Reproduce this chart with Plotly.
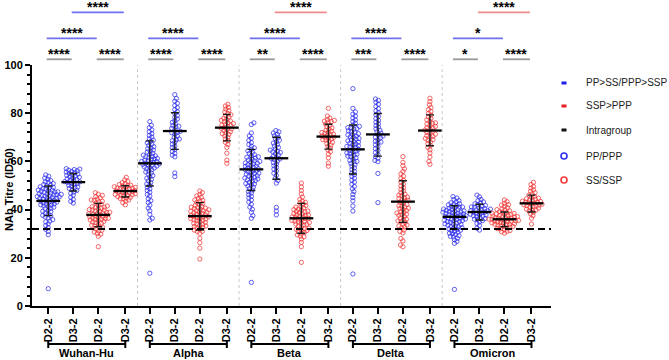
import plotly.graph_objects as go

# ---------------- data ----------------
variants = ["Wuhan-Hu", "Alpha", "Beta", "Delta", "Omicron"]
dose_labels = ["D2-2", "D3-2", "D2-2", "D3-2"]

wuhan_pp = [7.2, 29.6, 30.9, 31.8, 32.5, 33.4, 34.1, 34.9, 35.2, 35.8, 36.5, 36.9, 37.4, 37.6, 38.2, 38.5, 39.1, 39.3,
            39.8, 40.4, 40.6, 41.0, 41.3, 41.5, 41.9, 42.3, 42.4, 42.8, 43.0, 43.1, 43.5, 43.7, 43.9, 44.2, 44.3, 44.6,
            44.9, 45.0, 45.3, 45.4, 45.7, 45.9, 46.1, 46.2, 46.5, 46.6, 46.9, 47.1, 47.3, 47.4, 47.8, 48.0, 48.1, 48.5,
            48.7, 49.0, 49.2, 49.5, 49.9, 50.1, 50.4, 50.8, 51.3, 51.5, 52.0, 52.6, 53.1, 53.8, 54.4, 44.7, 45.6, 46.3,
            43.2, 42.0, 47.6]
wuhan_ppp = [42.7, 43.4, 44.2, 45.1, 46.0, 46.8, 47.3, 47.9, 48.4, 48.8, 49.2, 49.7, 50.1, 50.5, 50.8, 51.0, 51.3, 51.5,
             51.6, 51.9, 52.2, 52.5, 52.8, 53.1, 53.4, 53.6, 53.9, 54.2, 54.5, 54.7, 55.0, 55.3, 55.6, 55.8, 56.1, 56.3,
             56.6, 56.8, 57.0, 49.4]
wuhan_ss = [24.6, 28.9, 29.8, 30.7, 31.4, 32.0, 32.6, 33.1, 33.5, 33.9, 34.3, 34.8, 35.1, 35.5, 35.9, 36.2, 36.6, 36.9,
            37.1, 37.4, 37.6, 37.9, 38.1, 38.4, 38.6, 38.9, 39.2, 39.4, 39.7, 40.0, 40.3, 40.6, 40.9, 41.2, 41.5, 41.9,
            42.3, 42.7, 43.2, 43.8, 44.3, 44.9, 45.4, 45.9, 46.4, 47.0, 36.0, 37.0, 38.8, 39.9, 34.6, 32.8, 41.0, 43.5,
            35.7, 31.2, 30.1, 44.0, 38.2, 36.4]
wuhan_ssp = [42.0, 42.9, 43.5, 44.0, 44.4, 44.8, 45.1, 45.4, 45.7, 46.0, 46.3, 46.6, 46.9, 47.1, 47.3, 47.5, 47.7, 47.9,
             48.1, 48.3, 48.5, 48.7, 49.0, 49.2, 49.5, 49.8, 50.1, 50.4, 50.8, 51.2, 51.7, 52.3, 53.4, 47.0, 48.9, 46.1,
             45.9, 49.3, 50.0, 44.6]

alpha_pp = [13.6, 35.7, 36.4, 38.0, 39.5, 40.6, 41.8, 42.9, 43.7, 44.5, 45.6, 46.3, 47.2, 47.9, 48.6, 49.3, 50.0, 50.6,
            51.2, 51.9, 52.5, 53.0, 53.6, 54.1, 54.7, 55.2, 55.6, 56.0, 56.5, 57.0, 57.3, 57.7, 58.1, 58.4, 58.8, 59.0,
            59.3, 59.6, 59.9, 60.2, 60.5, 60.8, 61.2, 61.5, 61.9, 62.3, 62.6, 63.0, 63.4, 63.9, 64.3, 64.7, 65.2, 65.6,
            66.1, 66.6, 67.1, 67.7, 68.2, 68.8, 69.4, 70.1, 70.8, 71.5, 72.3, 73.1, 74.0, 75.0, 76.5, 58.6, 59.5, 60.0,
            57.5, 61.0, 62.0]
alpha_ppp = [53.7, 55.2, 61.9, 62.6, 63.4, 64.1, 64.9, 65.7, 66.4, 67.2, 67.9, 68.6, 69.3, 70.0, 70.6, 71.3, 71.9, 72.5,
             73.1, 73.7, 74.3, 74.9, 75.6, 76.2, 76.9, 77.6, 78.3, 79.0, 79.8, 80.6, 81.5, 82.3, 83.2, 84.1, 85.0, 86.1,
             87.7, 72.0, 74.6, 69.0]
alpha_ss = [19.5, 24.0, 26.3, 28.1, 30.2, 30.9, 31.5, 32.1, 32.6, 33.0, 33.5, 33.9, 34.3, 34.7, 35.0, 35.4, 35.8, 36.1,
            36.4, 36.7, 37.0, 37.3, 37.5, 37.8, 38.1, 38.4, 38.7, 39.0, 39.3, 39.6, 39.9, 40.2, 40.6, 40.9, 41.3, 41.7,
            42.1, 42.5, 43.0, 43.5, 44.0, 44.6, 45.1, 45.7, 46.3, 47.0, 47.7, 36.2, 37.7, 38.9, 34.1, 32.3, 40.5, 35.6,
            39.5, 43.8, 31.0, 41.0, 36.9, 33.2]
alpha_ssp = [59.2, 60.5, 63.4, 65.8, 67.0, 67.9, 68.6, 69.3, 70.0, 70.6, 71.2, 71.8, 72.3, 72.8, 73.3, 73.7, 74.1, 74.5,
             74.9, 75.3, 75.7, 76.1, 76.5, 77.0, 77.4, 77.9, 78.4, 78.9, 79.4, 79.9, 80.5, 81.1, 81.7, 82.4, 83.0, 83.7,
             73.5, 75.0, 71.5, 76.8]

beta_pp = [9.8, 36.4, 37.5, 38.9, 40.1, 41.0, 42.2, 43.1, 44.0, 44.8, 45.5, 46.2, 46.9, 47.5, 48.1, 48.7, 49.3, 49.8,
           50.3, 50.8, 51.3, 51.8, 52.3, 52.7, 53.1, 53.5, 53.9, 54.3, 54.7, 55.1, 55.5, 55.8, 56.2, 56.5, 56.9, 57.2,
           57.6, 57.9, 58.3, 58.6, 59.0, 59.4, 59.8, 60.2, 60.6, 61.0, 61.4, 61.9, 62.3, 62.8, 63.3, 63.8, 64.4, 65.0,
           65.6, 66.3, 67.0, 67.8, 68.7, 69.6, 70.6, 71.8, 75.3, 76.0, 55.0, 56.0, 57.0, 58.0, 54.0, 53.0, 60.0, 52.0,
           59.2, 61.7, 50.6]
beta_ppp = [37.8, 39.4, 40.9, 51.0, 52.1, 53.0, 54.2, 55.1, 56.0, 56.8, 57.5, 58.2, 58.9, 59.5, 60.1, 60.7, 61.2, 61.7,
            62.2, 62.7, 63.2, 63.7, 64.2, 64.7, 65.2, 65.8, 66.4, 67.0, 67.6, 68.2, 68.8, 69.4, 70.0, 70.6, 71.2, 71.8,
            72.3, 72.8, 61.0, 64.0]
beta_ss = [18.1, 24.6, 26.4, 27.8, 28.7, 29.5, 30.2, 30.8, 31.3, 31.8, 32.3, 32.8, 33.2, 33.6, 34.0, 34.4, 34.8, 35.2,
           35.5, 35.8, 36.1, 36.4, 36.7, 37.0, 37.3, 37.6, 37.9, 38.2, 38.6, 39.0, 39.4, 39.8, 40.2, 40.7, 41.2, 41.7,
           42.2, 42.8, 43.5, 44.3, 45.2, 46.5, 47.9, 49.4, 51.0, 35.0, 36.9, 33.9, 38.4, 40.0, 31.5, 29.0, 37.7, 34.6,
           41.0, 36.2, 32.0, 39.2, 43.0, 30.5]
beta_ssp = [58.0, 59.3, 61.5, 63.0, 64.0, 64.8, 65.5, 66.2, 66.8, 67.4, 67.9, 68.4, 68.9, 69.3, 69.7, 70.1, 70.5, 70.9,
            71.3, 71.7, 72.1, 72.5, 72.9, 73.4, 73.9, 74.4, 74.9, 75.5, 76.1, 76.7, 77.3, 78.0, 78.8, 82.0, 70.0, 71.0,
            69.0, 72.0, 76.5, 77.0]

delta_pp = [13.3, 39.4, 41.5, 43.6, 45.0, 46.3, 47.5, 48.6, 49.6, 50.5, 51.4, 52.2, 53.0, 53.8, 54.5, 55.2, 55.9, 56.6,
            57.3, 58.0, 58.6, 59.2, 59.8, 60.4, 61.0, 61.5, 62.0, 62.5, 63.0, 63.5, 64.0, 64.5, 65.0, 65.5, 66.0, 66.5,
            67.0, 67.5, 68.0, 68.5, 69.0, 69.5, 70.0, 70.5, 71.0, 71.5, 72.1, 72.7, 73.3, 73.9, 74.5, 75.1, 75.8, 76.5,
            77.2, 78.0, 78.8, 79.6, 80.5, 82.0, 90.2, 66.2, 67.2, 68.2, 69.2, 70.2, 64.2, 63.2, 62.2, 71.2, 72.4, 73.6,
            74.0, 65.8, 60.0]
delta_ppp = [42.9, 55.0, 59.9, 60.4, 61.3, 62.0, 62.9, 63.7, 64.5, 65.3, 66.1, 66.9, 67.7, 68.4, 69.1, 69.8, 70.5, 71.1,
             71.7, 72.3, 72.9, 73.5, 74.2, 74.9, 75.6, 76.3, 77.0, 77.8, 78.6, 79.4, 80.2, 81.0, 81.9, 82.8, 83.7, 84.6,
             85.3, 85.9, 70.0, 68.0]
delta_ss = [24.6, 25.3, 28.0, 30.3, 31.5, 32.4, 33.2, 34.0, 34.7, 35.3, 35.9, 36.5, 37.1, 37.6, 38.1, 38.6, 39.1, 39.6,
            40.1, 40.6, 41.1, 41.6, 42.1, 42.6, 43.1, 43.6, 44.1, 44.6, 45.2, 45.8, 46.4, 47.0, 47.7, 48.4, 49.1, 49.8,
            50.6, 51.4, 52.2, 53.0, 53.9, 54.8, 55.8, 56.9, 58.2, 59.6, 62.0, 33.6, 36.0, 38.9, 41.4, 43.9, 46.0, 35.0,
            37.9, 40.4, 32.8, 44.9, 30.9, 27.0]
delta_ssp = [58.8, 60.0, 61.8, 63.5, 64.8, 65.8, 66.6, 67.4, 68.1, 68.8, 69.5, 70.1, 70.7, 71.3, 71.9, 72.5, 73.0, 73.5,
             74.0, 74.5, 75.0, 75.5, 76.0, 76.6, 77.2, 77.8, 78.5, 79.2, 79.9, 80.7, 81.5, 82.4, 83.5, 84.8, 86.2, 72.0,
             73.8, 70.4, 75.8, 69.0]

omicron_pp = [6.9, 26.0, 26.8, 27.5, 28.1, 28.7, 29.2, 29.7, 30.2, 30.6, 31.0, 31.4, 31.8, 32.2, 32.5, 32.9, 33.2, 33.5,
              33.8, 34.1, 34.4, 34.7, 35.0, 35.3, 35.6, 35.9, 36.1, 36.4, 36.7, 36.9, 37.2, 37.4, 37.7, 37.9, 38.2, 38.4,
              38.7, 38.9, 39.2, 39.4, 39.7, 39.9, 40.2, 40.5, 40.8, 41.1, 41.4, 41.7, 42.0, 42.4, 42.8, 43.2, 43.7, 44.2,
              44.8, 45.4, 37.0, 38.0, 36.0, 35.0, 39.0, 40.0, 34.0, 33.0, 37.5, 38.5, 36.5, 41.0, 32.0, 30.0, 35.5, 39.5,
              42.2, 31.2, 28.9]
omicron_ppp = [31.5, 32.3, 33.4, 34.2, 34.9, 35.4, 35.9, 36.3, 36.7, 37.1, 37.5, 37.8, 38.1, 38.4, 38.7, 39.0, 39.3,
               39.6, 39.9, 40.2, 40.5, 40.8, 41.1, 41.4, 41.7, 42.0, 42.4, 42.8, 43.2, 43.7, 44.2, 45.3, 46.0, 38.9,
               39.5, 40.0, 37.3, 36.0, 41.0, 38.0]
omicron_ss = [30.2, 30.8, 31.3, 31.7, 32.1, 32.4, 32.7, 33.0, 33.3, 33.6, 33.9, 34.1, 34.4, 34.6, 34.9, 35.1, 35.3, 35.6,
              35.8, 36.0, 36.2, 36.4, 36.6, 36.9, 37.1, 37.3, 37.6, 37.9, 38.2, 38.5, 38.8, 39.1, 39.5, 39.9, 40.3, 40.8,
              41.3, 41.9, 42.6, 43.3, 44.0, 35.0, 36.0, 34.0, 37.0, 33.0, 38.0, 35.5, 36.5, 32.0, 39.0, 31.0, 34.5, 37.5,
              40.0, 35.2, 36.8, 33.8, 38.4, 42.0]
omicron_ssp = [34.0, 36.4, 37.5, 38.3, 38.9, 39.4, 39.8, 40.2, 40.6, 41.0, 41.3, 41.6, 41.9, 42.2, 42.5, 42.8, 43.1,
               43.4, 43.7, 44.0, 44.3, 44.7, 45.1, 45.5, 46.0, 46.5, 47.0, 47.6, 48.2, 48.9, 49.6, 50.4, 51.3, 42.0,
               43.0, 44.5, 41.5, 40.0, 43.5, 42.7]

# column order within each variant: PP (D2-2), PPP (D3-2), SS (D2-2), SSP (D3-2)
columns = [
    wuhan_pp, wuhan_ppp, wuhan_ss, wuhan_ssp,
    alpha_pp, alpha_ppp, alpha_ss, alpha_ssp,
    beta_pp, beta_ppp, beta_ss, beta_ssp,
    delta_pp, delta_ppp, delta_ss, delta_ssp,
    omicron_pp, omicron_ppp, omicron_ss, omicron_ssp,
]

medians = [43.6, 51.4, 37.8, 47.7, 59.2, 72.6, 37.3, 74.0, 56.7, 61.3, 36.4, 70.3,
           65.0, 71.2, 43.3, 72.8, 37.0, 39.0, 36.0, 42.6]
err_low = [37.5, 47.7, 32.9, 45.2, 49.8, 65.0, 31.5, 68.5, 47.9, 52.6, 30.2, 65.1,
           54.8, 62.2, 34.7, 66.5, 31.8, 35.7, 32.9, 39.0]
err_high = [49.8, 55.0, 42.6, 49.9, 68.5, 80.2, 42.9, 79.5, 65.0, 70.0, 42.6, 75.4,
            75.1, 79.9, 52.0, 79.3, 41.6, 42.2, 39.0, 46.0]

threshold = 32

# significance brackets: (row, column a, column b, label, kind)
sig_row = [1, 1, 1, 1, 1, 1, 1, 1, 1, 1, 2, 2, 2, 2, 2, 3, 3, 3]
sig_a = [0, 2, 4, 6, 8, 10, 12, 14, 16, 18, 0, 4, 8, 12, 16, 1, 9, 17]
sig_b = [1, 3, 5, 7, 9, 11, 13, 15, 17, 19, 2, 6, 10, 14, 18, 3, 11, 19]
sig_text = ["****", "****", "****", "****", "**", "****", "***", "****", "*", "****",
            "****", "****", "****", "****", "*",
            "****", "****", "****"]
sig_kind = ["intra"] * 10 + ["pp"] * 5 + ["pp", "ssp", "ssp"]

legend_labels = ["PP>SS/PPP>SSP", "SSP>PPP", "Intragroup", "PP/PPP", "SS/SSP"]

# ---------------- layout geometry ----------------
W, H = 669, 360
ML, MR, MT, MB = 32, 118, 65, 54
plot_w = W - ML - MR
plot_h = H - MT - MB
group_step = 4.06
col_offsets = [0, 1, 2, 3.08]
positions = [g * group_step + o for g in range(len(variants)) for o in col_offsets]
xmin, xmax = -0.65, 20.1
xscale = plot_w / (xmax - xmin)
yscale = plot_h / 100.0

BLUE = "rgba(45,45,235,0.75)"
RED = "rgba(240,55,55,0.75)"


def swarm(vals, center, d=3.0):
    placed = []
    xs = [center] * len(vals)
    order = sorted(range(len(vals)), key=lambda i: vals[i])
    flip = 1
    for i in order:
        y = vals[i] * yscale
        near = [(px, py) for px, py in placed if abs(py - y) < d]
        chosen = 0.0
        for k in range(0, 200):
            cands = [0.0] if k == 0 else [flip * k * 0.5, -flip * k * 0.5]
            found = None
            for off in cands:
                if all((off - px) ** 2 + (y - py) ** 2 >= d * d for px, py in near):
                    found = off
                    break
            if found is not None:
                chosen = found
                break
        flip = -flip
        placed.append((chosen, y))
        xs[i] = center + chosen / xscale
    return xs


def xp(x):
    return (x - xmin) / (xmax - xmin)


def yp(py):
    # pixel from top of image -> paper coordinate
    return (H - MB - py) / plot_h


fig = go.Figure()

# points
for name, color, idxs in [("PP/PPP", BLUE, [i for i in range(20) if i % 4 < 2]),
                          ("SS/SSP", RED, [i for i in range(20) if i % 4 >= 2])]:
    xs, ys = [], []
    for i in idxs:
        xs += swarm(columns[i], positions[i])
        ys += columns[i]
    fig.add_trace(go.Scatter(
        x=xs, y=ys, mode="markers", name=name, showlegend=False,
        marker=dict(symbol="circle-open", size=4.3, color=color, line=dict(width=1, color=color)),
        hoverinfo="y"))

# medians with error bars
fig.add_trace(go.Scatter(
    x=positions, y=medians, mode="markers", showlegend=False,
    marker=dict(symbol="line-ew", size=17, color="black", line=dict(width=2.3, color="black")),
    error_y=dict(type="data", symmetric=False,
                 array=[h - m for h, m in zip(err_high, medians)],
                 arrayminus=[m - l for l, m in zip(err_low, medians)],
                 color="#1a1a1a", thickness=1.4, width=4),
    hoverinfo="skip"))

shapes = []
annotations = []

# group separators
for g in range(1, len(variants)):
    xsep = (positions[4 * g - 1] + positions[4 * g]) / 2
    shapes.append(dict(type="line", xref="x", yref="y", x0=xsep, x1=xsep, y0=0, y1=100,
                       line=dict(color="#c9c9c9", width=1, dash="dot")))

# threshold dashed line
shapes.append(dict(type="line", xref="paper", yref="y", x0=0, x1=1, y0=threshold, y1=threshold,
                   line=dict(color="black", width=2, dash="7px,4px")))

# significance bars
row_line_py = {1: 59.3, 2: 38.3, 3: 12.4}
kind_color = {"intra": "#9a9a9a", "pp": "#6f6ff2", "ssp": "#f28a8a"}
for r, a, b, t, k in zip(sig_row, sig_a, sig_b, sig_text, sig_kind):
    x0, x1 = xp(positions[a]) - 0.003, xp(positions[b]) - 0.003
    y = yp(row_line_py[r])
    shapes.append(dict(type="line", xref="paper", yref="paper", x0=x0, x1=x1, y0=y, y1=y,
                       line=dict(color=kind_color[k], width=1.8)))
    annotations.append(dict(x=(x0 + x1) / 2, y=y, xref="paper", yref="paper", text=t, showarrow=False,
                            xanchor="center", yanchor="bottom", yshift=-4.5,
                            font=dict(size=14, color="black", family="Arial, Liberation Sans", weight="bold")))

# variant brackets under the axis
by = yp(344)
for g, v in enumerate(variants):
    x0, x1 = xp(positions[4 * g]), xp(positions[4 * g + 3])
    shapes.append(dict(type="line", xref="paper", yref="paper", x0=x0, x1=x1, y0=by, y1=by,
                       line=dict(color="black", width=2)))
    for xx in (x0, x1):
        shapes.append(dict(type="line", xref="paper", yref="paper", x0=xx, x1=xx,
                           y0=by - 4 / plot_h, y1=by + 4 / plot_h, line=dict(color="black", width=2)))
    annotations.append(dict(x=(x0 + x1) / 2, y=yp(353), xref="paper", yref="paper", text=v, showarrow=False,
                            xanchor="center", yanchor="middle",
                            font=dict(size=11, color="black", family="Arial, Liberation Sans", weight="bold")))

# y-axis title
annotations.append(dict(x=xp(xmin) - 23 / plot_w, y=yp(190), xref="paper", yref="paper",
                        text="NAb Titre (ID50)", textangle=-90, showarrow=False,
                        xanchor="center", yanchor="middle",
                        font=dict(size=11, color="black", family="Arial, Liberation Sans", weight="bold")))

# custom legend
leg_py = [83, 106, 130, 156, 180]
leg_sym_x = (564 - ML) / plot_w
leg_txt_x = (584 - ML) / plot_w
leg_kind = ["dash", "dash", "dash", "circle", "circle"]
leg_color = ["#1f1fe8", "#e81f1f", "#111111", "#3030ee", "#ee3a3a"]
for lab, py, kd, c in zip(legend_labels, leg_py, leg_kind, leg_color):
    if kd == "dash":
        shapes.append(dict(type="rect", xref="paper", yref="paper", xsizemode="pixel", ysizemode="pixel",
                           xanchor=leg_sym_x, yanchor=yp(py), x0=-2.5, x1=2.5, y0=-1.5, y1=1.5,
                           fillcolor=c, line=dict(width=0)))
    else:
        shapes.append(dict(type="circle", xref="paper", yref="paper", xsizemode="pixel", ysizemode="pixel",
                           xanchor=leg_sym_x, yanchor=yp(py), x0=-3, x1=3, y0=-3, y1=3,
                           fillcolor="rgba(0,0,0,0)", line=dict(color=c, width=1.6)))
    annotations.append(dict(x=leg_txt_x, y=yp(py), xref="paper", yref="paper", text=lab, showarrow=False,
                            xanchor="left", yanchor="middle",
                            font=dict(size=10, color="#222222", family="Liberation Sans, Arial")))

fig.update_layout(
    width=W, height=H, autosize=False,
    margin=dict(l=ML, r=MR, t=MT, b=MB, pad=0),
    paper_bgcolor="white", plot_bgcolor="white",
    showlegend=False,
    shapes=shapes, annotations=annotations,
    font=dict(family="Arial, Liberation Sans", color="black"),
    xaxis=dict(range=[xmin, xmax], tickmode="array", tickvals=positions, ticktext=dose_labels * len(variants),
               tickangle=-90, ticks="outside", ticklen=6, tickwidth=1.5, tickcolor="black", automargin=False,
               tickfont=dict(size=11, family="Arial, Liberation Sans", weight="bold", color="black"),
               showline=True, linewidth=2, linecolor="black", showgrid=False, zeroline=False, fixedrange=True),
    yaxis=dict(range=[0, 100], tick0=0, dtick=20, ticks="outside", ticklen=5, tickwidth=2, tickcolor="black",
               minor=dict(dtick=4, ticks="outside", ticklen=3, tickwidth=1.5, tickcolor="black", showgrid=False),
               tickfont=dict(size=11, family="Arial, Liberation Sans", weight="bold", color="black"),
               automargin=False,
               showline=True, linewidth=2, linecolor="black", showgrid=False, zeroline=False, fixedrange=True),
)

fig.write_html("out.html", config={"displayModeBar": False},
               post_script="document.body.style.margin='0px';document.body.style.padding='0px';")
